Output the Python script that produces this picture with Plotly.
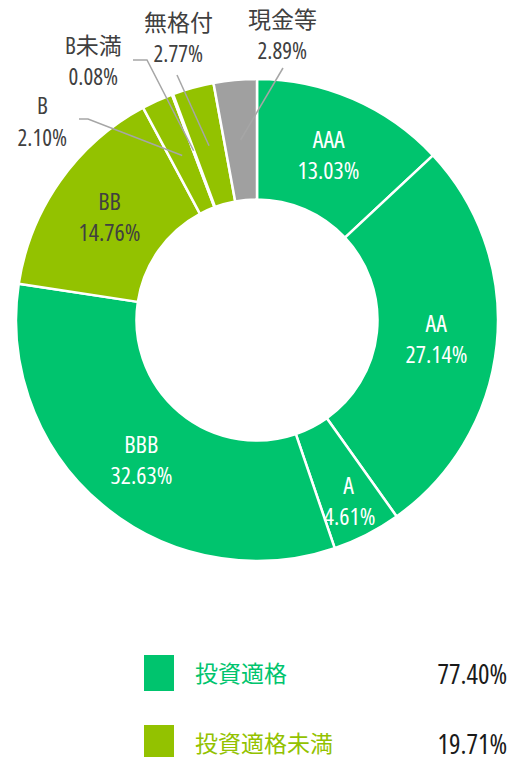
import math
import plotly.graph_objects as go

# ---- data ----
categories = ["AAA", "AA", "A", "BBB", "BB", "B", "B未満", "無格付", "現金等"]
values = [13.03, 27.14, 4.61, 32.63, 14.76, 2.10, 0.08, 2.77, 2.89]
groups = ["ig", "ig", "ig", "ig", "hy", "hy", "hy", "hy", "cash"]
legend_labels = ["投資適格", "投資適格未満"]
legend_values = [77.40, 19.71]

# ---- styles ----
W, H = 512, 757
cx, cy, R = 257, 320, 241
HOLE = 0.5
GREEN = "#00C46E"
LIME = "#93C200"
GRAY = "#A0A0A0"
TXT = "#404040"
color_map = {"ig": GREEN, "hy": LIME, "cash": GRAY}
FONT = "Open Sans, Noto Sans CJK JP, sans-serif"

inside = {"AAA": "white", "AA": "white", "A": "white", "BBB": "white", "BB": TXT}
label_r = {"A": 202}
# outside label text centres (px) and leader-line elbows (px)
outside = {
    "B": {"pos": (42, 121), "path": [(88, 119), (79, 119)]},
    "B未満": {"pos": (93, 60), "path": [(147, 60), (133, 60)]},
    "無格付": {"pos": (178, 38), "path": [(177, 75)]},
    "現金等": {"pos": (282, 34), "path": [(283, 68)]},
}
LINE_GAP = 15.5

def px2paper(x, y):
    return x / W, 1 - y / H

fig = go.Figure(go.Pie(
    labels=categories, values=values, sort=False, direction="clockwise",
    rotation=0, hole=HOLE, textinfo="none", hoverinfo="label+value",
    marker=dict(colors=[color_map[g] for g in groups], line=dict(color="white", width=2.5)),
    domain=dict(x=[(cx - R) / W, (cx + R) / W], y=[1 - (cy + R) / H, 1 - (cy - R) / H]),
    showlegend=False,
))

annotations = []
shapes = []
total = sum(values)
cum = 0.0
rmid = R * (1 + HOLE) / 2
for cat, v in zip(categories, values):
    theta = 2 * math.pi * (cum + v / 2) / total
    cum += v
    if cat in inside:
        r = label_r.get(cat, rmid)
        x = cx + r * math.sin(theta)
        y = cy - r * math.cos(theta)
        col = inside[cat]
        size = 24
    else:
        x0 = cx + rmid * math.sin(theta)
        y0 = cy - rmid * math.cos(theta)
        pts = [(x0, y0)] + outside[cat]["path"]
        path = "M " + " L ".join(f"{p[0]/W:.5f},{1-p[1]/H:.5f}" for p in pts)
        shapes.append(dict(type="path", xref="paper", yref="paper", path=path,
                           line=dict(color="#A6A6A6", width=1.5)))
        x, y = outside[cat]["pos"]
        col = TXT
        size = 23
    for txt, dy in ((cat, -LINE_GAP), (f"{v:.2f}%", LINE_GAP)):
        xp, yp = px2paper(x, y + dy)
        annotations.append(dict(x=xp, y=yp, xref="paper", yref="paper", text=txt,
                                showarrow=False, xanchor="center", yanchor="middle",
                                font=dict(family=FONT, size=size, color=col)))

# legend
leg_colors = [GREEN, LIME]
for i, (lab, val) in enumerate(zip(legend_labels, legend_values)):
    yc = 673 + 70 * i
    shapes.append(dict(type="rect", xref="paper", yref="paper",
                       x0=144 / W, x1=174 / W, y0=1 - (yc + 18) / H, y1=1 - (yc - 18) / H,
                       fillcolor=leg_colors[i], line=dict(width=0)))
    annotations.append(dict(x=193 / W, y=1 - yc / H, xref="paper", yref="paper", text=lab,
                            showarrow=False, xanchor="left", yanchor="middle", align="left",
                            font=dict(family=FONT, size=23, color=leg_colors[i])))
    annotations.append(dict(x=509 / W, y=1 - yc / H, xref="paper", yref="paper",
                            text=f"{val:.2f}%", showarrow=False, xanchor="right", yanchor="middle",
                            align="right",
                            font=dict(family=FONT, size=27, color="#1A1A1A")))

fig.update_layout(width=W, height=H, margin=dict(l=0, r=0, t=0, b=0),
                  paper_bgcolor="white", plot_bgcolor="white",
                  annotations=annotations, shapes=shapes)

post = """
var s = document.createElement('style');
s.textContent = 'html,body{margin:0;padding:0;overflow:hidden} .annotation-text{font-stretch:75% !important;}';
document.head.appendChild(s);
var gd = document.getElementById('{plot_id}');
Plotly.newPlot(gd, gd.data, gd.layout, {displayModeBar: false});
"""
fig.write_html("out.html", post_script=post, config={"displayModeBar": False})
